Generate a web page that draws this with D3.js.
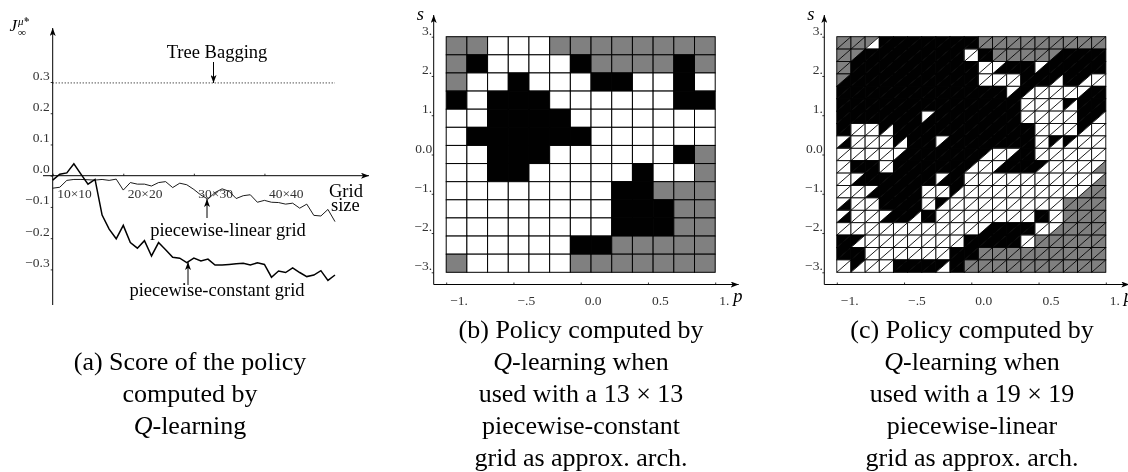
<!DOCTYPE html>
<html><head><meta charset="utf-8">
<script src="https://cdn.jsdelivr.net/npm/d3@7"></script>
<style>
html,body{margin:0;padding:0;background:#fff}
svg{display:block;opacity:.999;will-change:opacity}
text{font-family:"Liberation Serif",serif;fill:#000}
.tick text{fill:#333;font-size:13.5px;font-family:"Liberation Serif",serif}
.cap{font-size:26px}
.lab{font-size:18.5px}
.it{font-style:italic}
</style></head><body>
<svg id="c" width="1128" height="472"></svg>
<script>
const gridSizes = d3.range(10, 51);
const constantGrid = [-.014,.005,.009,.038,.005,-.027,-.012,-.126,-.171,-.202,-.159,-.214,-.232,-.208,-.257,-.214,-.237,-.261,-.264,-.278,-.264,-.273,-.267,-.286,-.286,-.284,-.282,-.280,-.286,-.279,-.284,-.325,-.305,-.310,-.295,-.310,-.323,-.318,-.304,-.335,-.318];
const linearGrid = [-.040,-.037,-.015,-.012,-.012,-.013,-.014,-.012,-.015,-.011,-.046,-.022,-.027,-.027,-.033,-.022,-.019,-.038,-.024,-.029,-.044,-.062,-.075,-.054,-.042,-.050,-.073,-.064,-.061,-.085,-.079,-.085,-.086,-.091,-.088,-.104,-.091,-.127,-.129,-.108,-.147];
const treeBagging = 0.297;
const scoreTicks = [0.3,0.2,0.1,0.0,-0.1,-0.2,-0.3];
const scoreTickLabels = ["0.3","0.2","0.1","0.0","\u22120.1","\u22120.2","\u22120.3"];
const sizeTicks = [10,20,30,40];
const sizeTickLabels = ["10\u00d710","20\u00d720","30\u00d730","40\u00d740"];
const pTicks = [-1,-.5,0,.5,1];
const pTickLabels = ["\u22121.","\u2212.5","0.0","0.5","1."];
const sTicks = [3,2,1,0,-1,-2,-3];
const sTickLabels = ["3.","2.","1.","0.0","\u22121.","\u22122.","\u22123."];
// G gray, W white, B black
const policyConstant = [
"GGWWWGGGGGGGG",
"GBWWWWBGGGGBG",
"GWWBWWWBBWWBW",
"BWBBBWWWWWWBB",
"WWBBBBWWWWWWW",
"WBBBBBBWWWWWW",
"WWBBBWWWWWWBG",
"WWBBWWWWWBWWG",
"WWWWWWWWBBGGG",
"WWWWWWWWBBBGG",
"WWWWWWWWBBBGG",
"WWWWWWBBGGGGG",
"GWWWWWGGGGGGG"];
// two letters per cell: upper-left triangle, lower-right triangle
const policyLinear = [
"GG GG GW BB BB BB BB BB BB BB GG GG GG GG GG GG GG GG GG",
"GG GB BB BB BB BB BB BB BB WW BB GG GG GG GG GB BB BB BB",
"GG BB BB BB BB BB BB BB BB BB WW WB BB BB WB BB BB BB BB",
"GB BB BB BB BB BB BB BB BB BB WW WW WW BB BB BW BB BW WW",
"BB BB BB BB BB BB BB BB BB BB BB BB WB BW WW WW WW WB BB",
"BB BB BB BB BB BB BB BB BB BB BB BB BB WW WW WW BW BB BB",
"BB BB BB BB BB BB WB BB BB BB BB BB BB WW WW WW WW BB BW",
"BB WW WW BW BB BB BB BB BB BB BB BB BB BB WW WW WW BW WW",
"WB WW WW WW BW BB BB WB BB BB BB BB BB BB WW BW BW WW WW",
"WW WW WW WW WB BB BB BB BB BB BW WW WB BB WW WW WW WW WW",
"WW BB BB WW BB BB BB BB BB BW WW WB BB BB BW WW WW WW WG",
"WW WB BB BB BB BB BB WB BB WW WW WW WW WW WW WW WW WW WG",
"WW WW WB BB BB BB WW WW BW WW WW WW WW WW WW WW WW WG GG",
"WB WW WW BB BB BB WW BW WW WW WW WW WW WW WW WW GG GG GG",
"WB WW WW WB BB BW BB WW WW WW WW WW WW WW BB WW GG GG GG",
"WW WW WW WW WW WW WW WW WW WW WB BB BB BB WW WG GG GG GG",
"BB BW WW WW WW WW WW WW WW BB BB BB BB WW GG GG GG GG GG",
"BB BB WW WW WW WW WW WW BB BB GG GG GG GG GG GG GG GG GG",
"WW BW WW WW BB BB BB BW BB GG GG GG GG GG GG GG GG GG GG"].map(r=>r.split(" "));
const captionA = ["(a) Score of the policy","computed by","|Q|-learning"];
const captionB = ["(b) Policy computed by","|Q|-learning when","used with a 13 \u00d7 13","piecewise-constant","grid as approx. arch."];
const captionC = ["(c) Policy computed by","|Q|-learning when","used with a 19 \u00d7 19","piecewise-linear","grid as approx. arch."];
const shade = {G:"#808080",W:"#fff",B:"#000"};

const svg = d3.select("#c");
svg.append("defs").append("marker").attr("id","ah").attr("viewBox","0 0 8 6").attr("refX",8).attr("refY",3)
 .attr("markerWidth",8).attr("markerHeight",6).attr("markerUnits","userSpaceOnUse").attr("orient","auto")
 .append("path").attr("d","M0,0L8,3L0,6L2,3Z").attr("fill","#000");
const arrow=(x1,y1,x2,y2,w=1)=>svg.append("line").attr("x1",x1).attr("y1",y1).attr("x2",x2).attr("y2",y2).attr("stroke","#000").attr("stroke-width",w).attr("marker-end","url(#ah)");
const label=(t,x,y,anchor="middle",cls="lab")=>svg.append("text").attr("x",x).attr("y",y).attr("text-anchor",anchor).attr("class",cls).text(t);
function caption(lines,cx,y0){
  lines.forEach((l,i)=>{
    const t=svg.append("text").attr("class","cap").attr("x",cx).attr("y",y0+i*32).attr("text-anchor","middle");
    l.split("|").forEach(part=>{ if(part) t.append("tspan").attr("font-style",part==="Q"?"italic":null).text(part); });
  });
}
function styleAxis(g){ g.select(".domain").remove(); g.selectAll(".tick line").attr("stroke","#000").attr("stroke-width",.8); }

// Panel (a)
const xA = d3.scaleLinear().domain([10,50]).range([52.7,335]);
const yA = d3.scaleLinear().domain([0,0.3]).range([175.7,82]);
const gx = svg.append("g").attr("transform","translate(0,175.7)").call(d3.axisBottom(xA).tickValues(sizeTicks).tickSize(-2).tickFormat((d,i)=>sizeTickLabels[i]));
styleAxis(gx); gx.selectAll(".tick text").attr("text-anchor","start").attr("dx",4).attr("y",12.5);
const gy = svg.append("g").attr("transform","translate(52.7,0)").call(d3.axisLeft(yA).tickValues(scoreTicks).tickSize(2).tickFormat((d,i)=>scoreTickLabels[i]));
styleAxis(gy); gy.selectAll(".tick text").attr("x",-3).attr("dy","-3px");
arrow(52.7,305,52.7,28); arrow(43,175.7,369,175.7);
svg.append("line").attr("x1",xA(10)).attr("x2",xA(50)).attr("y1",yA(treeBagging)).attr("y2",yA(treeBagging)).attr("stroke","#000").attr("stroke-width",1).attr("stroke-dasharray","1 2");
const lineA = d3.line().x((d,i)=>xA(gridSizes[i])).y(d=>yA(d));
svg.append("path").attr("d",lineA(linearGrid)).attr("fill","none").attr("stroke","#000").attr("stroke-width",.9);
svg.append("path").attr("d",lineA(constantGrid)).attr("fill","none").attr("stroke","#000").attr("stroke-width",1.5);
label("Tree Bagging",217,58); arrow(213.5,62,213.5,83);
label("piecewise-linear grid",228,236); arrow(207,218,207,199);
label("piecewise-constant grid",217,296); arrow(188,285,188,262);
label("Grid",329,197,"start"); label("size",331,211,"start");
svg.append("text").attr("x",9.5).attr("y",31).attr("font-style","italic").attr("font-size",17).text("J");
svg.append("text").attr("x",18).attr("y",36).attr("font-style","italic").attr("font-size",11).text("\u221e");
svg.append("text").attr("x",18).attr("y",25).attr("font-style","italic").attr("font-size",11).text("\u03bc\u0302*");

// Panels (b),(c)
function frame(ox){
  const x = d3.scaleLinear().domain([-1,1]).range([ox+12.5,ox+281.5]);
  const y = d3.scaleLinear().domain([-3,3]).range([272.3,36.7]);
  const a = svg.append("g").attr("transform","translate(0,284.5)").call(d3.axisBottom(x).tickValues(pTicks).tickSize(-2).tickFormat((d,i)=>pTickLabels[i]));
  styleAxis(a); a.selectAll(".tick text").attr("text-anchor","start").attr("dx",3.5).attr("y",11);
  const b = svg.append("g").attr("transform",`translate(${ox},0)`).call(d3.axisLeft(y).tickValues(sTicks).tickSize(2).tickFormat((d,i)=>sTickLabels[i]));
  styleAxis(b); b.selectAll(".tick text").attr("x",-1.5).attr("dy","-2.5px");
  arrow(ox,284.5,ox,15); arrow(ox,284.5,ox+305,284.5);
  svg.append("text").attr("x",ox-17).attr("y",20).attr("class","it lab").text("s");
  svg.append("text").attr("x",ox+299.5).attr("y",302).attr("class","it lab").text("p");
  return {x,y};
}
const fb = frame(433.7);
const bandB = d3.scaleBand().domain(d3.range(13)).range([fb.x(-1),fb.x(1)]);
const rowB = d3.scaleBand().domain(d3.range(13)).range([fb.y(3),fb.y(-3)]);
policyConstant.forEach((row,j)=>row.split("").forEach((c,i)=>{
  svg.append("rect").attr("x",bandB(i)).attr("y",rowB(j)).attr("width",bandB.bandwidth()).attr("height",rowB.bandwidth())
   .attr("fill",shade[c]).attr("stroke","#000").attr("stroke-width",1);
}));
const fc = frame(824.3);
const bandC = d3.scaleBand().domain(d3.range(19)).range([fc.x(-1),fc.x(1)]);
const rowC = d3.scaleBand().domain(d3.range(19)).range([fc.y(3),fc.y(-3)]);
policyLinear.forEach((row,j)=>row.forEach((c,i)=>{
  const x0=bandC(i),y0=rowC(j),w=bandC.bandwidth(),h=rowC.bandwidth();
  svg.append("path").attr("d",`M${x0},${y0}h${w}L${x0},${y0+h}Z`).attr("fill",shade[c[0]]).attr("stroke",shade[c[0]]).attr("stroke-width",.3);
  svg.append("path").attr("d",`M${x0+w},${y0}v${h}h${-w}Z`).attr("fill",shade[c[1]]).attr("stroke",shade[c[1]]).attr("stroke-width",.3);
  svg.append("rect").attr("x",x0).attr("y",y0).attr("width",w).attr("height",h).attr("fill","none").attr("stroke","#000").attr("stroke-width",.9);
  svg.append("line").attr("x1",x0).attr("y1",y0+h).attr("x2",x0+w).attr("y2",y0).attr("stroke","#000").attr("stroke-width",.9);
}));

caption(captionA,190,370);
caption(captionB,581,338);
caption(captionC,972,338);
</script></body></html>
